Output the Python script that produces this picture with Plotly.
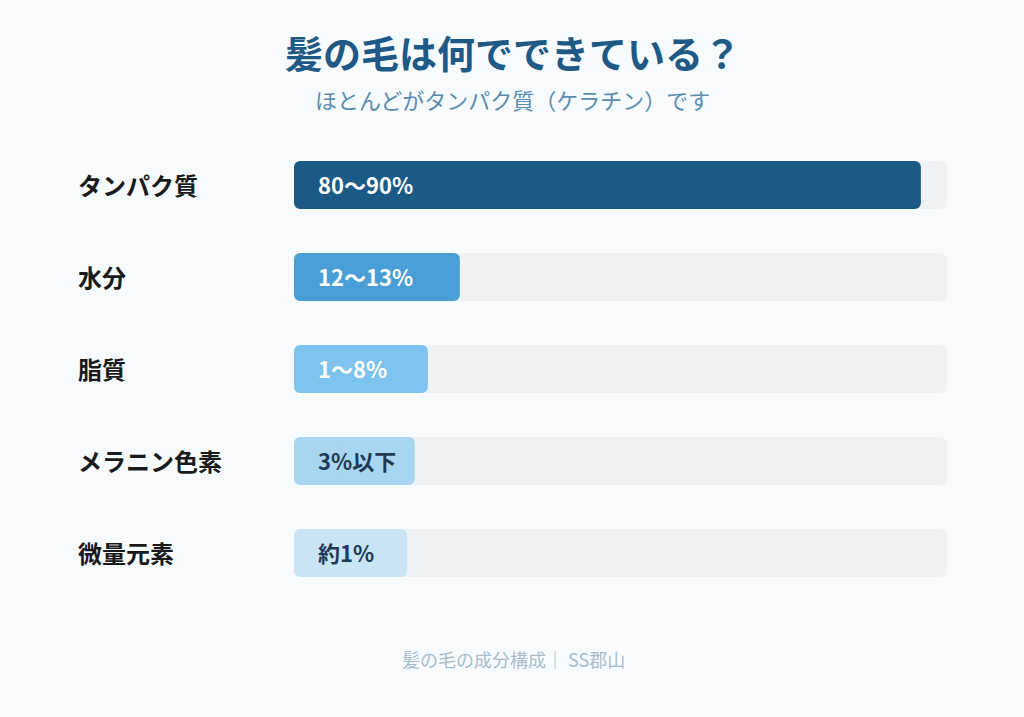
import plotly.graph_objects as go

categories = ["タンパク質", "水分", "脂質", "メラニン色素", "微量元素"]
bar_values = [96, 25.4, 20.5, 18.5, 17.3]
value_labels = ["80〜90%", "12〜13%", "1〜8%", "3%以下", "約1%"]
bar_colors = ["#1c5a86", "#4a9ed6", "#7dc3ee", "#a8d5ef", "#c9e4f5"]
text_colors = ["#ffffff", "#ffffff", "#ffffff", "#1e3a55", "#1e3a55"]
track_max = 100

FONT = "Noto Sans CJK JP"
W, H = 1024, 717
L, R, T, B = 294, 77, 139, 118
PW, PH = W - L - R, H - T - B
RADIUS = 6
BAR_W = 0.52


def px_x(x):
    return (x - L) / PW


def px_y(y):
    return (H - B - y) / PH


def rounded_bar(values, color):
    # Two overlapping pieces so both outer ends get rounded corners
    traces = []
    # left piece: from 0.6v back to 0 (outer end = left)
    traces.append(go.Bar(
        y=categories, x=[-0.6 * v for v in values], base=[0.6 * v for v in values],
        orientation="h",
        marker=dict(color=color, line=dict(width=0), cornerradius=RADIUS),
        width=BAR_W, hoverinfo="skip", showlegend=False,
    ))
    # right piece: from 0.4v to v (outer end = right)
    traces.append(go.Bar(
        y=categories, x=[0.6 * v for v in values], base=[0.4 * v for v in values],
        orientation="h",
        marker=dict(color=color, line=dict(width=0), cornerradius=RADIUS),
        width=BAR_W, hoverinfo="skip", showlegend=False,
    ))
    return traces


fig = go.Figure()
for tr in rounded_bar([track_max] * len(categories), "#eef2f6"):
    fig.add_trace(tr)
for tr in rounded_bar(bar_values, bar_colors):
    fig.add_trace(tr)

annotations = []
for cat, lab, tc in zip(categories, value_labels, text_colors):
    annotations.append(dict(
        x=0, y=cat, xref="x", yref="y", text=f"<b>{lab}</b>", showarrow=False,
        xanchor="left", xshift=22, yshift=1, font=dict(family=FONT, size=22, color=tc),
    ))
    annotations.append(dict(
        x=px_x(76), y=cat, xref="paper", yref="y", text=f"<b>{cat}</b>",
        showarrow=False, xanchor="left", yshift=1,
        font=dict(family=FONT, size=24, color="#1a1a1a"),
    ))

annotations.append(dict(
    x=px_x(513), y=px_y(51), xref="paper", yref="paper", xanchor="center", yanchor="middle",
    text="<b>髪の毛は何でできている？</b>", showarrow=False,
    font=dict(family=FONT, size=38, color="#1e5a85"),
))
annotations.append(dict(
    x=px_x(512), y=px_y(99), xref="paper", yref="paper", xanchor="center", yanchor="middle",
    text="ほとんどがタンパク質（ケラチン）です", showarrow=False,
    font=dict(family=FONT, size=22, color="#5b8db0"),
))
annotations.append(dict(
    x=px_x(513), y=px_y(659), xref="paper", yref="paper", xanchor="center", yanchor="middle",
    text="髪の毛の成分構成｜ SS郡山", showarrow=False,
    font=dict(family=FONT, size=18, color="#a9bccb"),
))

fig.update_layout(
    width=W, height=H,
    margin=dict(l=L, r=R, t=T, b=B, autoexpand=False),
    paper_bgcolor="#f7fbfe", plot_bgcolor="#f7fbfe",
    barmode="overlay",
    xaxis=dict(range=[0, track_max], visible=False, fixedrange=True),
    yaxis=dict(categoryorder="array", categoryarray=categories,
               range=[len(categories) - 0.5, -0.5], autorange=False,
               visible=False, fixedrange=True),
    annotations=annotations,
    font=dict(family=FONT),
)

fig.write_html(
    "out.html",
    config={"displayModeBar": False},
    post_script="document.body.style.margin='0';document.body.style.background='#f7fbfe';",
)
